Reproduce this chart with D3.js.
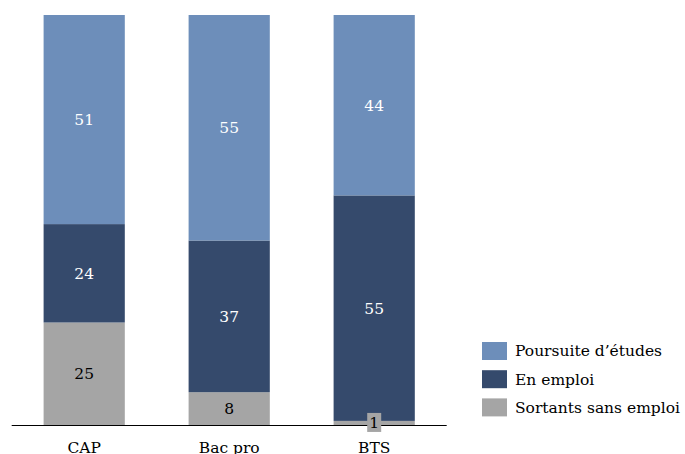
<!DOCTYPE html>
<html><head><meta charset="utf-8">
<script src="https://cdn.jsdelivr.net/npm/d3@7"></script>
<style>body{margin:0;background:#fff}svg{display:block}</style>
</head><body><svg id="c" width="685" height="454"></svg>
<script>
const categories = ["CAP", "Bac pro", "BTS"];
const seriesNames = ["Sortants sans emploi", "En emploi", "Poursuite d\u2019\u00e9tudes"];
const sansEmploi = [25, 8, 1];
const enEmploi = [24, 37, 55];
const poursuite = [51, 55, 44];
const colors = ["#a5a5a5", "#354a6c", "#6d8eba"];
const labelColors = ["#000", "#fff", "#fff"];

const svg = d3.select("#c");
const font = "DejaVu Serif";
const fs = 15.5;
const x = d3.scaleBand().domain(categories).range([11.7, 446.7]).paddingInner(0.44).paddingOuter(0.22);
const y = d3.scaleLinear().domain([0, 100]).range([425, 15]);

const rows = categories.map((c, i) => ({cat: c, s0: sansEmploi[i], s1: enEmploi[i], s2: poursuite[i]}));
const stack = d3.stack().keys(["s0", "s1", "s2"]);
const series = stack(rows);

series.forEach((s, si) => {
  const g = svg.append("g");
  g.selectAll("rect").data(s).join("rect")
    .attr("x", d => x(d.data.cat)).attr("width", x.bandwidth())
    .attr("y", d => y(d[1])).attr("height", d => y(d[0]) - y(d[1]))
    .attr("fill", colors[si]);
});

// axis
const axis = svg.append("g").attr("transform", "translate(0,425)")
  .call(d3.axisBottom(x).tickSize(0).tickPadding(17));
axis.select(".domain").attr("stroke", "#000").attr("stroke-width", 1);
axis.selectAll("text").attr("font-family", font).attr("font-size", fs).attr("fill", "#000");
axis.select(".domain").attr("d", "M11.7,0.5H446.7");

// labels
series.forEach((s, si) => {
  s.forEach(d => {
    const v = d[1] - d[0];
    const cx = x(d.data.cat) + x.bandwidth() / 2;
    const cy = (y(d[0]) + y(d[1])) / 2;
    const g = svg.append("g");
    if (v < 3) {
      g.append("rect").attr("x", cx - 7).attr("y", cy - 10).attr("width", 14).attr("height", 19)
        .attr("fill", colors[si]);
    }
    g.append("text").attr("x", cx).attr("y", cy).attr("dy", "0.35em")
      .attr("text-anchor", "middle").attr("font-family", font).attr("font-size", fs)
      .attr("fill", labelColors[si]).text(v);
  });
});

// legend
const legendOrder = [2, 1, 0];
const lg = svg.append("g").attr("transform", "translate(482,342)");
legendOrder.forEach((si, i) => {
  const r = lg.append("g").attr("transform", `translate(0,${i * 28.2})`);
  r.append("rect").attr("width", 25).attr("height", 18).attr("fill", colors[si]);
  r.append("text").attr("x", 33).attr("y", 9).attr("dy", "0.35em")
    .attr("font-family", font).attr("font-size", fs).attr("fill", "#000").text(seriesNames[si]);
});
</script></body></html>
